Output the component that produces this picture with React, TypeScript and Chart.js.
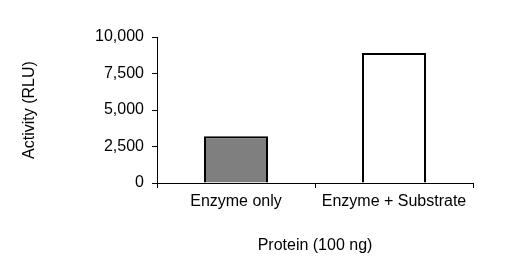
import React, { useEffect, useRef } from "react";
import { Chart, registerables } from "chart.js";

Chart.register(...registerables);

const categories = ["Enzyme only", "Enzyme + Substrate"];
const activity = [3200, 8900];
const barColors = ["#7f7f7f", "#ffffff"];
const yTitle = "Activity (RLU)";
const xTitle = "Protein (100 ng)";

export default function App() {
  const ref = useRef<HTMLCanvasElement | null>(null);
  useEffect(() => {
    if (!ref.current) return;
    const font = { family: "'Liberation Sans', Arial, sans-serif", size: 16 };
    const chart = new Chart(ref.current, {
      type: "bar",
      data: {
        labels: categories,
        datasets: [
          {
            data: activity,
            backgroundColor: barColors,
            borderColor: "#000000",
            borderWidth: 2,
            barPercentage: 0.405,
            categoryPercentage: 1,
          },
        ],
      },
      options: {
        animation: false,
        responsive: false,
        maintainAspectRatio: false,
        layout: { padding: { left: 16, top: 37, right: 37, bottom: 10 } },
        plugins: { legend: { display: false }, tooltip: { enabled: false } },
        scales: {
          x: {
            offset: true,
            grid: {
              offset: true,
              drawOnChartArea: false,
              drawTicks: true,
              tickLength: 5,
              color: "#000000",
            },
            border: { display: true, color: "#000000", width: 1 },
            ticks: { color: "#000000", font, padding: 4, maxRotation: 0 },
            title: {
              display: true,
              text: xTitle,
              color: "#000000",
              font,
              padding: { top: 4, bottom: 4 },
            },
            afterFit: (scale: any) => {
              scale.height = 76;
            },
          },
          y: {
            min: 0,
            max: 10000,
            ticks: { stepSize: 2500, color: "#000000", font, padding: 8 },
            grid: {
              drawOnChartArea: false,
              drawTicks: true,
              tickLength: 5,
              color: "#000000",
            },
            border: { display: true, color: "#000000", width: 1 },
            title: {
              display: true,
              text: yTitle,
              color: "#000000",
              font,
              padding: { top: 4, bottom: 4 },
            },
            afterFit: (scale: any) => {
              scale.width = 141;
            },
          },
        },
      },
    });
    return () => chart.destroy();
  }, []);
  return (
    <div style={{ position: "fixed", left: 0, top: 0, width: 510, height: 269, background: "#fff" }}>
      <canvas ref={ref} width={510} height={269} />
    </div>
  );
}
